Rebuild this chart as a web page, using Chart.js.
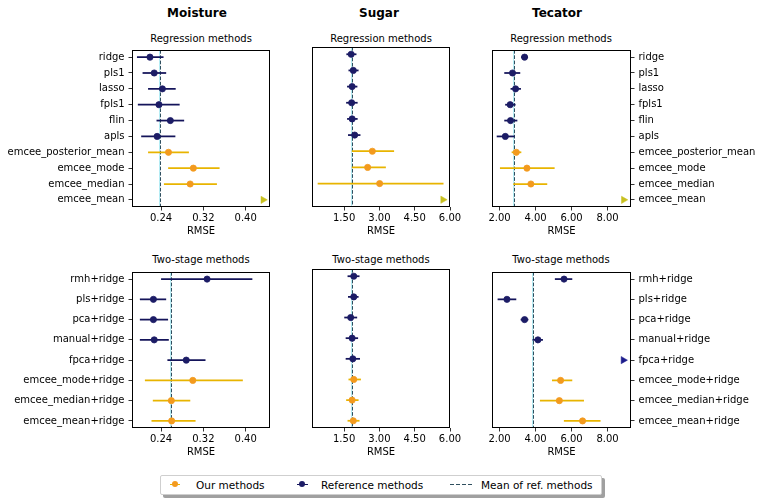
<!DOCTYPE html>
<html>
<head>
<meta charset="utf-8">
<script src="https://cdn.jsdelivr.net/npm/chart.js@4.4.1/dist/chart.umd.min.js"></script>
<style>
  body { margin:0; background:#fff; }
  #wrap { position:relative; width:760px; height:501px; font-family:'DejaVu Sans', sans-serif; color:#000; overflow:hidden; }
  .t { position:absolute; text-align:center; white-space:nowrap; }
  .colT { font-size:12px; font-weight:bold; line-height:14px; width:200px; }
  .subT { font-size:10px; line-height:12px; width:200px; }
  canvas { position:absolute; }
  #legend { position:absolute; left:160px; top:475px; width:440px; height:18px; border:1px solid #cfcfcf; background:#fff; box-shadow:3px 3px 0 #a0a0a0; border-radius:2px; font-size:10.5px; }
  .li { position:absolute; top:0; line-height:18px; white-space:nowrap; }
  .mk { position:absolute; }
</style>
</head>
<body>
<div id="wrap">
  <div class="t colT" style="left:97px;top:6px;">Moisture</div>
  <div class="t colT" style="left:279px;top:6px;">Sugar</div>
  <div class="t colT" style="left:457px;top:6px;">Tecator</div>

  <div class="t subT" style="left:101px;top:33px;">Regression methods</div>
  <div class="t subT" style="left:281px;top:33px;">Regression methods</div>
  <div class="t subT" style="left:461px;top:33px;">Regression methods</div>
  <div class="t subT" style="left:101px;top:254px;">Two-stage methods</div>
  <div class="t subT" style="left:281px;top:254px;">Two-stage methods</div>
  <div class="t subT" style="left:461px;top:254px;">Two-stage methods</div>

  <canvas id="c00" width="290" height="201" style="left:0px;top:40px;"></canvas>
  <canvas id="c01" width="190" height="201" style="left:290px;top:40px;"></canvas>
  <canvas id="c02" width="288" height="201" style="left:472px;top:40px;"></canvas>
  <canvas id="c10" width="290" height="200" style="left:0px;top:262px;"></canvas>
  <canvas id="c11" width="190" height="200" style="left:290px;top:262px;"></canvas>
  <canvas id="c12" width="288" height="200" style="left:472px;top:262px;"></canvas>

  <div id="legend">
    <div class="mk" style="left:9px;top:8px;width:10px;height:1px;background:#e8b400;"></div>
    <div class="mk" style="left:11px;top:5px;width:6px;height:6px;border-radius:50%;background:#f39a1e;"></div>
    <div class="li" style="left:35px;">Our methods</div>
    <div class="mk" style="left:136px;top:8px;width:11px;height:1px;background:#14145a;"></div>
    <div class="mk" style="left:138px;top:5px;width:6px;height:6px;border-radius:50%;background:#1c1c66;"></div>
    <div class="li" style="left:160px;">Reference methods</div>
    <div class="mk" style="left:289px;top:8px;width:22px;height:1px;background:repeating-linear-gradient(to right,#2f4f5f 0 4px,transparent 4px 6px);"></div>
    <div class="li" style="left:320px;">Mean of ref. methods</div>
  </div>
</div>

<script>
// ---------- categories ----------
const regLabels = ['ridge','pls1','lasso','fpls1','flin','apls','emcee_posterior_mean','emcee_mode','emcee_median','emcee_mean'];
const regIsOurs = [false,false,false,false,false,false,true,true,true,true];
const twoLabels = ['rmh+ridge','pls+ridge','pca+ridge','manual+ridge','fpca+ridge','emcee_mode+ridge','emcee_median+ridge','emcee_mean+ridge'];
const twoIsOurs = [false,false,false,false,false,true,true,true];

// ---------- tick labels / axis ranges ----------
const moistureTicks = [0.24, 0.32, 0.40];
const sugarTicks = [1.50, 3.00, 4.50, 6.00];
const tecatorTicks = [2.00, 4.00, 6.00, 8.00];
const moistureRange = [0.185, 0.446];
const sugarRange = [0.135, 6.0];
const tecatorRange = [1.58, 9.3];

// ---------- Moisture, regression ----------
const moistureRegRmse = [0.219, 0.227, 0.2425, 0.236, 0.2575, 0.2325, 0.254, 0.301, 0.295, null];
const moistureRegLow  = [0.195, 0.2056, 0.216, 0.1967, 0.232, 0.203, 0.216, 0.254, 0.246, null];
const moistureRegHigh = [0.244, 0.249, 0.267, 0.2745, 0.283, 0.2664, 0.292, 0.350, 0.345, null];
const moistureRegOffScale = [null,null,null,null,null,null,null,null,null,0.433];
const moistureRegRefMean = 0.2375;

// ---------- Sugar, regression ----------
const sugarRegRmse = [1.80, 1.89, 1.84, 1.82, 1.84, 1.95, 2.70, 2.50, 3.01, null];
const sugarRegLow  = [1.61, 1.70, 1.64, 1.60, 1.64, 1.68, 1.84, 1.84, 0.39, null];
const sugarRegHigh = [2.01, 2.10, 2.05, 2.06, 2.06, 2.18, 3.61, 3.26, 5.71, null];
const sugarRegOffScale = [null,null,null,null,null,null,null,null,null,5.70];
const sugarRegRefMean = 1.85;

// ---------- Tecator, regression ----------
const tecatorRegRmse = [3.39, 2.72, 2.89, 2.59, 2.61, 2.32, 2.93, 3.52, 3.74, null];
const tecatorRegLow  = [3.22, 2.28, 2.63, 2.33, 2.28, 1.86, 2.69, 2.04, 2.78, null];
const tecatorRegHigh = [3.56, 3.13, 3.17, 2.87, 2.97, 2.82, 3.19, 5.04, 4.63, null];
const tecatorRegOffScale = [null,null,null,null,null,null,null,null,null,8.89];
const tecatorRegRefMean = 2.78;

// ---------- Moisture, two-stage ----------
const moistureTwoRmse = [0.327, 0.2255, 0.2255, 0.227, 0.2876, 0.300, 0.2594, 0.260];
const moistureTwoLow  = [0.2406, 0.2005, 0.2005, 0.2005, 0.2526, 0.210, 0.225, 0.2225];
const moistureTwoHigh = [0.412, 0.249, 0.2526, 0.254, 0.3234, 0.394, 0.2946, 0.3046];
const moistureTwoOffScale = [null,null,null,null,null,null,null,null];
const moistureTwoRefMean = 0.2583;

// ---------- Sugar, two-stage ----------
const sugarTwoRmse = [1.91, 1.91, 1.78, 1.84, 1.87, 1.91, 1.84, 1.89];
const sugarTwoLow  = [1.66, 1.68, 1.52, 1.58, 1.58, 1.70, 1.60, 1.66];
const sugarTwoHigh = [2.14, 2.10, 2.04, 2.08, 2.16, 2.20, 2.10, 2.14];
const sugarTwoOffScale = [null,null,null,null,null,null,null,null];
const sugarTwoRefMean = 1.85;

// ---------- Tecator, two-stage ----------
const tecatorTwoRmse = [5.58, 2.41, 3.39, 4.13, null, 5.39, 5.32, 6.61];
const tecatorTwoLow  = [5.09, 1.91, 3.19, 3.85, null, 4.93, 4.26, 5.59];
const tecatorTwoHigh = [6.02, 2.91, 3.58, 4.39, null, 6.02, 6.67, 7.59];
const tecatorTwoOffScale = [null,null,null,null,8.87,null,null,null];
const tecatorTwoRefMean = 3.85;

// ---------- styles ----------
const REF_LINE = '#14145a', REF_PT = '#1c1c66', REF_TRI = '#1c1c8c';
const OUR_LINE = '#e8b400', OUR_PT = '#f39a1e', OUR_TRI = '#c8c020';

Chart.defaults.font.family = "'DejaVu Sans', sans-serif";
Chart.defaults.font.size = 10;
Chart.defaults.color = '#000';

const framePlugin = {
  id: 'frame',
  beforeDatasetsDraw(chart, args, opts) {
    const {ctx, chartArea: a} = chart;
    const xs = chart.scales.x;
    const px = Math.round(xs.getPixelForValue(opts.mean)) + 0.5;
    ctx.save();
    ctx.strokeStyle = 'rgba(120,220,235,0.55)';
    ctx.lineWidth = 1;
    ctx.beginPath(); ctx.moveTo(px - 1, a.top); ctx.lineTo(px - 1, a.bottom); ctx.stroke();
    ctx.strokeStyle = '#2f4f5f';
    ctx.setLineDash([3.7, 1.6]);
    ctx.beginPath(); ctx.moveTo(px, a.top); ctx.lineTo(px, a.bottom); ctx.stroke();
    ctx.restore();
  },
  afterDatasetsDraw(chart) {
    const {ctx, chartArea: a} = chart;
    ctx.save();
    ctx.strokeStyle = '#000';
    ctx.lineWidth = 1;
    ctx.strokeRect(Math.round(a.left) + 0.5, Math.round(a.top) + 0.5, Math.round(a.right - a.left) - 1, Math.round(a.bottom - a.top) - 1);
    ctx.restore();
  }
};

function panel(id, p) {
  const n = p.labels.length;
  const refErr = [], ourErr = [], refPts = [], ourPts = [], triPts = [], triCol = [];
  for (let i = 0; i < n; i++) {
    const ours = p.isOurs[i];
    if (p.low[i] != null) (ours ? ourErr : refErr).push({ x: [p.low[i], p.high[i]], y: i });
    if (p.rmse[i] != null) (ours ? ourPts : refPts).push({ x: p.rmse[i], y: i });
    if (p.off[i] != null) { triPts.push({ x: p.off[i], y: i }); triCol.push(ours ? OUR_TRI : REF_TRI); }
  }
  const idx = p.labels.map((_, i) => i);
  const margin = 0.05 * (n - 1);   // matplotlib default data margins
  const ptDs = (label, data, col, order) => ({
    type: 'line', label, data, indexAxis: 'y', showLine: false, order,
    pointStyle: 'circle', pointRadius: 3.1, pointBackgroundColor: col, pointBorderColor: col, pointBorderWidth: 0.8
  });
  new Chart(document.getElementById(id), {
    type: 'bar',
    data: {
      datasets: [
        { label: 'ref err', data: refErr, backgroundColor: REF_LINE, barThickness: 1.1, grouped: false, order: 3, indexAxis: 'y' },
        { label: 'our err', data: ourErr, backgroundColor: OUR_LINE, barThickness: 1.1, grouped: false, order: 3, indexAxis: 'y' },
        ptDs('Reference methods', refPts, REF_PT, 1),
        ptDs('Our methods', ourPts, OUR_PT, 1),
        { type: 'line', label: 'off scale', data: triPts, indexAxis: 'y', showLine: false, order: 0,
          pointStyle: 'triangle', pointRotation: 90, pointRadius: 4.2,
          pointBackgroundColor: triCol, pointBorderColor: triCol, pointBorderWidth: 0.5 }
      ]
    },
    options: {
      responsive: false, animation: false, indexAxis: 'y',
      layout: { padding: p.padding },
      events: [],
      plugins: { legend: { display: false }, tooltip: { enabled: false }, frame: { mean: p.mean } },
      scales: {
        x: {
          type: 'linear', min: p.range[0], max: p.range[1],
          afterBuildTicks: s => { s.ticks = p.ticks.map(v => ({ value: v })); },
          ticks: { callback: v => Number(v).toFixed(2), padding: 1.5, maxRotation: 0, autoSkip: false, color: '#000' },
          grid: { drawOnChartArea: false, drawTicks: true, tickLength: 3.5, color: '#000', lineWidth: 0.8 },
          border: { display: false },
          title: { display: true, text: 'RMSE', color: '#000', font: { size: 10 }, padding: { top: 2, bottom: 4 } },
          afterFit: s => { s.height = 34; }
        },
        y: {
          type: 'linear', position: p.yPos, reverse: true, offset: false,
          min: -margin, max: (n - 1) + margin,
          afterBuildTicks: s => { s.ticks = idx.map(v => ({ value: v })); },
          ticks: { display: p.showY, padding: 4, autoSkip: false, color: '#000', callback: v => p.labels[v] },
          grid: { display: p.showY, offset: false, drawOnChartArea: false, drawTicks: true, tickLength: 3.5, color: '#000', lineWidth: 0.8 },
          border: { display: false },
          afterFit: s => { s.width = p.yWidth; }
        }
      }
    },
    plugins: [framePlugin]
  });
}

const colCfg = [
  { yPos: 'left',  showY: true,  yWidth: 132, padding: { top: 7, right: 20, left: 0, bottom: 0 } },
  { yPos: 'left',  showY: false, yWidth: 22,  padding: { top: 7, right: 30, left: 0, bottom: 0 } },
  { yPos: 'right', showY: true,  yWidth: 129, padding: { top: 7, right: 0, left: 20, bottom: 0 } }
];

panel('c00', Object.assign({}, colCfg[0], { labels: regLabels, isOurs: regIsOurs, rmse: moistureRegRmse, low: moistureRegLow, high: moistureRegHigh, off: moistureRegOffScale, mean: moistureRegRefMean, ticks: moistureTicks, range: moistureRange }));
panel('c01', Object.assign({}, colCfg[1], { labels: regLabels, isOurs: regIsOurs, rmse: sugarRegRmse, low: sugarRegLow, high: sugarRegHigh, off: sugarRegOffScale, mean: sugarRegRefMean, ticks: sugarTicks, range: sugarRange }));
panel('c02', Object.assign({}, colCfg[2], { labels: regLabels, isOurs: regIsOurs, rmse: tecatorRegRmse, low: tecatorRegLow, high: tecatorRegHigh, off: tecatorRegOffScale, mean: tecatorRegRefMean, ticks: tecatorTicks, range: tecatorRange }));
panel('c10', Object.assign({}, colCfg[0], { labels: twoLabels, isOurs: twoIsOurs, rmse: moistureTwoRmse, low: moistureTwoLow, high: moistureTwoHigh, off: moistureTwoOffScale, mean: moistureTwoRefMean, ticks: moistureTicks, range: moistureRange }));
panel('c11', Object.assign({}, colCfg[1], { labels: twoLabels, isOurs: twoIsOurs, rmse: sugarTwoRmse, low: sugarTwoLow, high: sugarTwoHigh, off: sugarTwoOffScale, mean: sugarTwoRefMean, ticks: sugarTicks, range: sugarRange }));
panel('c12', Object.assign({}, colCfg[2], { labels: twoLabels, isOurs: twoIsOurs, rmse: tecatorTwoRmse, low: tecatorTwoLow, high: tecatorTwoHigh, off: tecatorTwoOffScale, mean: tecatorTwoRefMean, ticks: tecatorTicks, range: tecatorRange }));
</script>
</body>
</html>
